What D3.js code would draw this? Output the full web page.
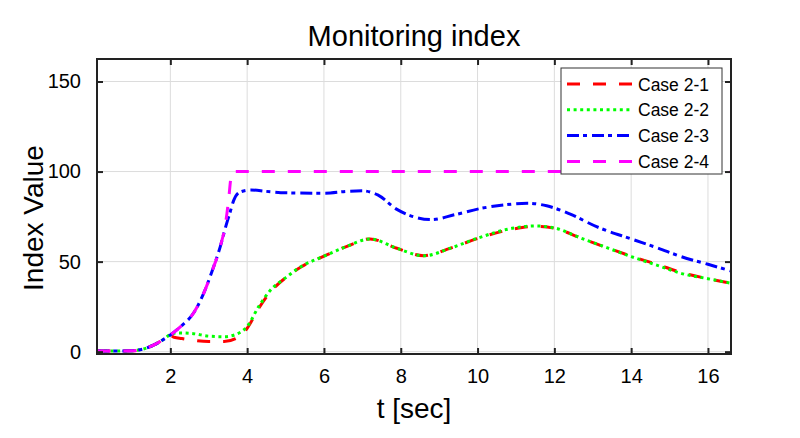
<!DOCTYPE html>
<html>
<head>
<meta charset="utf-8">
<script src="https://cdn.jsdelivr.net/npm/d3@7"></script>
<style>
  body { margin: 0; background: #fff; }
  text { font-family: "Liberation Sans", Arial, sans-serif; fill: #000; }
</style>
</head>
<body>
<script>
// values
let tRed = [0.1,0.5,1.0,1.3,1.6,1.8,2.0,2.1,2.3,2.6,3.0,3.4,3.7,4.0,4.3,4.6,5.0,5.4,6.0,6.6,7.2,7.9,8.6,9.3,10.0,10.9,11.5,12.0,12.7,13.4,14.0,14.7,15.3,16.0,16.6];
let vRed = [0.5,0.3,0.5,1.5,4,6.5,9,8,7.3,6.3,5.6,5.6,7.2,13,24,33,41,47,53,58.5,62.6,57.4,53.3,57.5,62.8,68,69.6,68.5,63,57.5,53,48.3,44,40.5,38];

let tGreen = [0.1,0.5,1.0,1.3,1.6,1.8,2.0,2.2,2.6,3.0,3.4,3.7,4.0,4.3,4.6,5.0,5.4,6.0,6.6,7.2,7.9,8.6,9.3,10.0,10.9,11.5,12.0,12.7,13.4,14.0,14.7,15.3,16.0,16.6];
let vGreen = [0.5,0.3,0.5,1.5,4,6.5,9.5,10.4,10,8.6,8.3,9.5,14,25,34,41,47.2,53,58.5,62.6,57.4,53.2,57.5,63,68.5,69.8,68.7,63,57.5,52.8,47.8,43.5,40.5,38];

let tBlue = [0.1,0.5,1.0,1.3,1.6,1.8,2.0,2.3,2.6,2.9,3.1,3.3,3.45,3.55,3.65,3.8,4.1,4.5,5.0,6.0,6.6,7.0,7.4,7.9,8.4,8.8,9.4,10.1,10.7,11.3,11.8,12.4,13.1,14.0,14.7,15.3,16.0,16.6];
let vBlue = [0.5,0.3,0.5,1.5,4,6.5,9.3,14.5,21.3,34,45.5,58.3,70,77,84,88.5,89.8,89,88.2,88,89,89.3,87,79,74.5,73.3,76,79.6,81.5,82.4,81,76.5,69.4,62.6,57.5,52.8,48.5,44.8];

let tMagenta = [0.1,0.5,1.0,1.3,1.6,1.8,2.0,2.3,2.6,2.9,3.1,3.3,3.45,3.52,3.58,3.62,16.6];
let vMagenta = [0.5,0.3,0.5,1.5,4,6.5,9.3,14.5,21.3,34,45.5,58.3,73,85,97,100,100];

let seriesNames = ['Case 2-1','Case 2-2','Case 2-3','Case 2-4'];
let xTicks = [2,4,6,8,10,12,14,16];
let yTicks = [0,50,100,150];

let margin = { left: 97, top: 59, right: 69, bottom: 84 };
let width = 800 - margin.left - margin.right,
    height = 438 - margin.top - margin.bottom;

let x = d3.scaleLinear().domain([0.09, 16.6]).range([0, width]);
let y = d3.scaleLinear().domain([-1.3, 162.5]).range([height, 0]);

let styles = [
    { color: '#ff0000', dash: '13,13' },
    { color: '#00ff00', dash: '3,3.6' },
    { color: '#0000ff', dash: '12,4,4,5' },
    { color: '#ff00ff', dash: '13,13' }
];
let series = [
    tRed.map((t,i) => [t, vRed[i]]),
    tGreen.map((t,i) => [t, vGreen[i]]),
    tBlue.map((t,i) => [t, vBlue[i]]),
    tMagenta.map((t,i) => [t, vMagenta[i]])
];

let svg = d3.select('body').append('svg')
    .attr('width', 800).attr('height', 438);

let chart = svg.append('g')
    .attr('transform', `translate(${margin.left},${margin.top})`);

// grid
chart.append('g').selectAll('line').data(xTicks).join('line')
    .attr('x1', d => x(d)).attr('x2', d => x(d))
    .attr('y1', 0).attr('y2', height)
    .attr('stroke', '#dcdcdc').attr('stroke-width', 1);
chart.append('g').selectAll('line').data(yTicks).join('line')
    .attr('x1', 0).attr('x2', width)
    .attr('y1', d => y(d)).attr('y2', d => y(d))
    .attr('stroke', '#dcdcdc').attr('stroke-width', 1);

// lines
let lineGen = d3.line()
    .x(d => x(d[0]))
    .y(d => y(d[1]))
    .curve(d3.curveMonotoneX);

chart.append('g').selectAll('path').data(series).join('path')
    .attr('d', d => lineGen(d))
    .attr('fill', 'none')
    .attr('stroke', (d,i) => styles[i].color)
    .attr('stroke-width', 3)
    .attr('stroke-dasharray', (d,i) => styles[i].dash);

// axes, ticks point inward like matlab
let xAxis = d3.axisBottom(x).tickValues(xTicks).tickSize(-6).tickPadding(15);
let yAxis = d3.axisLeft(y).tickValues(yTicks).tickSize(-6).tickPadding(16);

let gx = chart.append('g').attr('class', 'axis x')
    .attr('transform', `translate(0,${height})`).call(xAxis);
let gy = chart.append('g').attr('class', 'axis y').call(yAxis);
let gTop = chart.append('g').call(d3.axisTop(x).tickValues(xTicks).tickSize(-6).tickFormat(''));
let gRight = chart.append('g').attr('transform', `translate(${width},0)`)
    .call(d3.axisRight(y).tickValues(yTicks).tickSize(-6).tickFormat(''));

[gx, gy, gTop, gRight].forEach(g => {
    g.select('.domain').remove();
    g.selectAll('.tick line').attr('stroke', '#222').attr('stroke-width', 2);
    g.selectAll('.tick text').style('font-size', '20px').attr('fill', '#222');
});

chart.append('rect')
    .attr('x', 0).attr('y', 0).attr('width', width).attr('height', height)
    .attr('fill', 'none').attr('stroke', '#222').attr('stroke-width', 2);

// legend
let legend = svg.append('g').attr('transform', 'translate(561,68)');
legend.append('rect')
    .attr('width', 161).attr('height', 106)
    .attr('fill', '#fff').attr('stroke', '#333').attr('stroke-width', 1);
let items = legend.selectAll('g.item').data(seriesNames).join('g')
    .attr('transform', (d,i) => `translate(0,${16 + i*25.8})`);
items.append('line')
    .attr('x1', 6).attr('x2', 72).attr('y1', 0).attr('y2', 0)
    .attr('stroke', (d,i) => styles[i].color)
    .attr('stroke-width', 3)
    .attr('stroke-dasharray', (d,i) => styles[i].dash);
items.append('text')
    .attr('x', 77).attr('y', 6.5)
    .style('font-size', '17.5px')
    .text(d => d);

// titles
svg.append('text')
    .attr('x', margin.left + width/2).attr('y', 46)
    .attr('text-anchor', 'middle')
    .style('font-size', '29px')
    .text('Monitoring index');

svg.append('text')
    .attr('x', margin.left + width/2).attr('y', 418)
    .attr('text-anchor', 'middle')
    .style('font-size', '28px')
    .text('t [sec]');

svg.append('text')
    .attr('transform', `translate(43,218) rotate(-90)`)
    .attr('text-anchor', 'middle')
    .style('font-size', '28px')
    .text('Index Value');
</script>
</body>
</html>
